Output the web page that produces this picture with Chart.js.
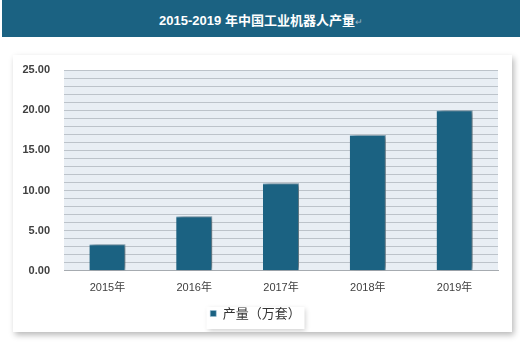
<!DOCTYPE html>
<html><head><meta charset="utf-8">
<script src="https://cdn.jsdelivr.net/npm/chart.js@4"></script>
<style>
html,body{margin:0;padding:0;background:#fff;width:520px;height:354px;overflow:hidden;font-family:"Liberation Sans","Noto Sans CJK SC",sans-serif;}
#title{position:absolute;left:2px;top:0;width:518px;height:37px;background:#1b6282;color:#fff;font-weight:bold;font-size:13px;text-align:center;line-height:42px;font-family:"Liberation Sans","Noto Sans CJK SC",sans-serif;}
#title span{color:#9fb8c8;font-weight:normal;font-size:9px;}
#panel{position:absolute;left:13px;top:55px;width:499px;height:277px;background:#fff;box-shadow:2px 3px 6px rgba(0,0,0,0.28);}
canvas{display:block;}
</style></head><body>
<div id="title">2015-2019 年中国工业机器人产量<span>↵</span></div>
<div id="panel"><canvas id="c" width="499" height="277"></canvas></div>
<script>
const categories = ["2015年","2016年","2017年","2018年","2019年"];
const seriesName = "产量（万套）";
const production = [3.3, 6.8, 10.9, 16.9, 20.0];
const yMax = 25;

const bgPlugin = {
  id:'bg',
  beforeDraw(chart){
    const {ctx, chartArea:a} = chart;
    ctx.save();
    ctx.fillStyle = '#e8eef4';
    ctx.fillRect(a.left, a.top, a.right-a.left, a.bottom-a.top);
    const l = chart.legend;
    if (l) {
      ctx.shadowColor='rgba(0,0,0,0.18)';
      ctx.shadowBlur=5; ctx.shadowOffsetX=1; ctx.shadowOffsetY=2;
      ctx.fillStyle='#fff';
      const cy = l.top + l.height/2;
      ctx.fillRect(l.left+(l.width-98)/2, cy-11, 98, 22);
    }
    ctx.restore();
  },
  beforeDatasetDraw(chart){
    const ctx = chart.ctx;
    ctx.save();
    ctx.shadowColor='rgba(0,0,0,0.5)';
    ctx.shadowBlur=5; ctx.shadowOffsetX=3; ctx.shadowOffsetY=0;
  },
  afterDatasetDraw(chart){ chart.ctx.restore(); }
};

new Chart(document.getElementById('c'), {
  type:'bar',
  data:{labels:categories, datasets:[{label:seriesName, data:production,
    backgroundColor:'#1b6282', borderColor:'#9cc0d4', borderWidth:{top:1,right:1,left:0,bottom:0},
    barPercentage:0.415, categoryPercentage:1}]},
  options:{
    responsive:false, animation:false, maintainAspectRatio:false,
    layout:{padding:{left:0,right:14,top:15,bottom:2}},
    plugins:{
      title:{display:false}, tooltip:{enabled:false},
      legend:{position:'bottom', labels:{boxWidth:6, boxHeight:6, color:'#333', padding:1,
        font:{size:13, family:'"Noto Sans CJK SC", sans-serif'}}}
    },
    scales:{
      x:{grid:{display:false, drawTicks:false}, border:{color:'#a6abb0'},
        ticks:{color:'#404040', padding:11, font:{size:11, family:'"Liberation Sans","Noto Sans CJK SC",sans-serif'}}},
      y:{min:0, max:yMax, afterFit(s){s.width=51; s.paddingTop=0; s.paddingBottom=0;},
        grid:{color:'#bcc3ca', drawTicks:false}, border:{display:false},
        ticks:{stepSize:1, autoSkip:false, padding:14, color:'#404040',
          font:{size:11, weight:'bold', family:'"Liberation Sans",sans-serif'},
          callback:(v)=> v%5===0 ? v.toFixed(2) : ''}}
    }
  },
  plugins:[bgPlugin]
});
</script>
</body></html>
